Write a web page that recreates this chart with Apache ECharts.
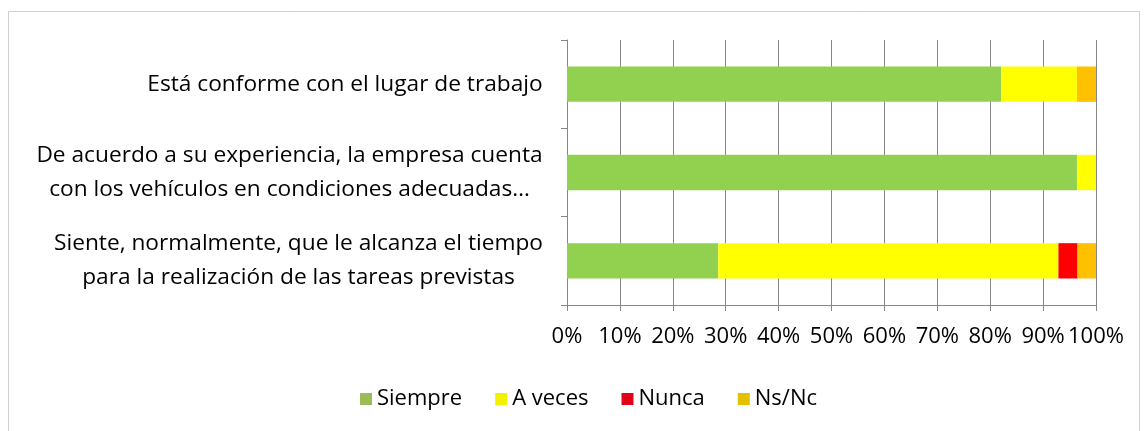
<!DOCTYPE html>
<html>
<head>
<meta charset="utf-8">
<script src="https://cdn.jsdelivr.net/npm/echarts@6/dist/echarts.min.js"></script>
<style>
html,body{margin:0;padding:0;background:#fff;}
#chart{width:1146px;height:431px;}
</style>
</head>
<body>
<div id="chart"></div>
<script>
const categories = [
  "Está conforme con el lugar de trabajo",
  "De acuerdo a su experiencia, la empresa cuenta\ncon los vehículos en condiciones adecuadas…",
  "Siente, normalmente, que le alcanza el tiempo\npara la realización de las tareas previstas"
];
const seriesNames = ["Siempre", "A veces", "Nunca", "Ns/Nc"];
const siempre = [82.1, 96.4, 28.6];
const aVeces  = [14.3, 3.6, 64.3];
const nunca   = [0, 0, 3.6];
const nsnc    = [3.6, 0, 3.6];
const xTicks = [0, 10, 20, 30, 40, 50, 60, 70, 80, 90, 100];

const FONT = 'Open Sans';
const FS_CAT = 22.7;
const FS = 22;
const barColors = ['#92d050', '#ffff00', '#ff0000', '#ffc000'];
const legendColors = ['#9bbb59', '#f2f200', '#e3001b', '#e3c000'];

const cv = document.createElement('canvas').getContext('2d');
cv.font = FS_CAT + 'px "' + FONT + '"';
const rich = {};
categories.forEach((c, i) => {
  const w = Math.max(...c.split('\n').map(l => cv.measureText(l).width));
  rich['c' + i] = { width: Math.ceil(w), align: 'center', fontFamily: FONT, fontSize: FS_CAT, color: '#000', lineHeight: 34 };
});

const chart = echarts.init(document.getElementById('chart'));
const data = [siempre, aVeces, nunca, nsnc];
chart.setOption({
  animation: false,
  backgroundColor: '#fff',
  graphic: [{
    type: 'rect', shape: { x: 8.5, y: 11.5, width: 1131, height: 425 },
    style: { fill: 'none', stroke: '#d0d0d0', lineWidth: 1 }, silent: true
  }],
  grid: { left: 567, right: 50, top: 40, bottom: 126 },
  legend: {
    left: 355, top: 383,
    itemWidth: 12, itemHeight: 12, itemGap: 33,
    icon: 'rect',
    textStyle: { fontFamily: FONT, fontSize: FS, color: '#000' },
    data: seriesNames.map((n, i) => ({ name: n, itemStyle: { color: legendColors[i] } }))
  },
  xAxis: {
    type: 'value', min: 0, max: 100, interval: 10,
    axisLine: { show: true, lineStyle: { color: '#868686', width: 1 } },
    axisTick: { show: true, length: 6, lineStyle: { color: '#868686' } },
    splitLine: { show: true, lineStyle: { color: '#868686', width: 1 } },
    axisLabel: {
      margin: 21, fontFamily: FONT, fontSize: FS, color: '#000',
      formatter: v => xTicks.includes(v) ? v + '%' : ''
    }
  },
  yAxis: {
    type: 'category', inverse: true, data: categories,
    axisLine: { show: true, lineStyle: { color: '#868686', width: 1 } },
    axisTick: { show: true, length: 6, inside: false, lineStyle: { color: '#868686' } },
    axisLabel: {
      margin: 24, align: 'right',
      formatter: (v, i) => v.split('\n').map(l => '{c' + i + '|' + l + '}').join('\n'),
      rich: rich
    }
  },
  series: seriesNames.map((n, i) => ({
    name: n, type: 'bar', stack: 'total', barWidth: '40%',
    itemStyle: { color: barColors[i] },
    data: data[i]
  }))
});
</script>
</body>
</html>
